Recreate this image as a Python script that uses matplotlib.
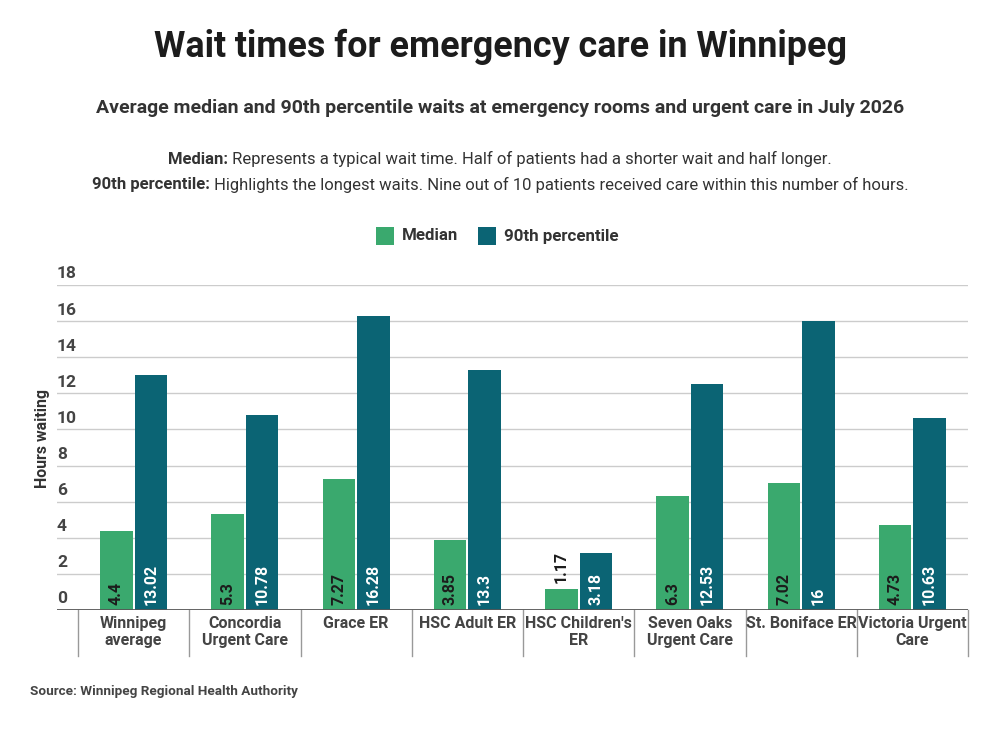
import matplotlib
matplotlib.use('Agg')
import matplotlib.pyplot as plt
import numpy as np
from matplotlib.patches import Rectangle
from matplotlib.transforms import blended_transform_factory

plt.rcParams['font.family'] = ['Roboto', 'DejaVu Sans']

# data
places = ['Winnipeg\naverage', 'Concordia\nUrgent Care', 'Grace ER', 'HSC Adult ER',
          "HSC Children's\nER", 'Seven Oaks\nUrgent Care', 'St. Boniface ER', 'Victoria Urgent\nCare']
median = [4.4, 5.3, 7.27, 3.85, 1.17, 6.3, 7.02, 4.73]
p90 = [13.02, 10.78, 16.28, 13.3, 3.18, 12.53, 16, 10.63]
median_lbl = ['4.4', '5.3', '7.27', '3.85', '1.17', '6.3', '7.02', '4.73']
p90_lbl = ['13.02', '10.78', '16.28', '13.3', '3.18', '12.53', '16', '10.63']
yticks = [0, 2, 4, 6, 8, 10, 12, 14, 16, 18]

GREEN = '#3aa96e'
TEAL = '#0b6474'
DARK = '#1c1c1c'
GREY = '#444444'

W, H = 1000, 730
fig = plt.figure(figsize=(10, 7.3), dpi=100)

def fx(px):
    return px / W

def fy(py):
    return 1 - py / H

# titles
fig.text(0.5, fy(47), 'Wait times for emergency care in Winnipeg', ha='center', va='center',
         fontsize=25.8, fontweight='bold', color=DARK)
fig.text(0.5, fy(108), 'Average median and 90th percentile waits at emergency rooms and urgent care in July 2026',
         ha='center', va='center', fontsize=14, fontweight='bold', color='#333333')

renderer = fig.canvas.get_renderer()

def mixed_line(y, bold, rest, size=12):
    # bold lead-in followed by regular text, centred as one line
    t1 = fig.text(0, fy(y), bold, ha='left', va='center', fontsize=size, fontweight='bold', color='#333333')
    t2 = fig.text(0, fy(y), rest, ha='left', va='center', fontsize=size, color='#333333')
    w1 = t1.get_window_extent(renderer).width
    w2 = t2.get_window_extent(renderer).width
    x0 = (fig.bbox.width - w1 - w2) / 2
    t1.set_x(x0 / fig.bbox.width)
    t2.set_x((x0 + w1) / fig.bbox.width)

mixed_line(159, 'Median:', ' Represents a typical wait time. Half of patients had a shorter wait and half longer.')
mixed_line(185, '90th percentile:', ' Highlights the longest waits. Nine out of 10 patients received care within this number of hours.')

# legend
for x, c, lab in [(376, GREEN, 'Median'), (478, TEAL, '90th percentile')]:
    fig.patches.append(Rectangle((fx(x), fy(245)), fx(18), 18 / H, transform=fig.transFigure,
                                 facecolor=c, edgecolor='none'))
    fig.text(fx(x + 26), fy(236), lab, ha='left', va='center', fontsize=12.2, fontweight='bold', color='#333333')

# axes
ax = fig.add_axes([fx(57), fy(610), fx(968 - 57), (610 - 285) / H])
n = len(places)
xs = np.arange(n)
bw = 0.292
gap = 0.018
ax.set_xlim(-0.5 - 21 / 111.25, n - 0.5)
ax.set_ylim(0, 18)

for v in yticks[1:]:
    ax.axhline(v, color='#cccccc', lw=1, zorder=0)
ax.axhline(0, color='#555555', lw=2, zorder=3)

ax.bar(xs - bw / 2 - gap / 2, median, bw, color=GREEN, zorder=2)
ax.bar(xs + bw / 2 + gap / 2, p90, bw, color=TEAL, zorder=2)

off = 0.3
for i in range(n):
    if median[i] > 2.5:
        ax.text(xs[i] - bw / 2 - gap / 2, off, median_lbl[i], rotation=90, ha='center', va='bottom',
                fontsize=11.5, fontweight='bold', color=DARK)
    else:
        ax.text(xs[i] - bw / 2 - gap / 2, median[i] + 0.35, median_lbl[i], rotation=90, ha='center',
                va='bottom', fontsize=11.5, fontweight='bold', color=DARK)
    ax.text(xs[i] + bw / 2 + gap / 2, off, p90_lbl[i], rotation=90, ha='center', va='bottom',
            fontsize=11.5, fontweight='bold', color='white')

# y tick labels sit above gridlines
tr = blended_transform_factory(ax.transAxes, ax.transData)
for v in yticks:
    ax.text(0, v + 0.2, str(v), transform=tr, ha='left', va='bottom', fontsize=12.5,
            fontweight='bold', color=GREY)
ax.set_yticks([])
ax.set_xticks([])
for s in ax.spines.values():
    s.set_visible(False)

fig.text(fx(43), fy(438), 'Hours waiting', rotation=90, ha='center', va='center',
         fontsize=11.4, fontweight='bold', color='#333333')

# category separators and labels
trx = blended_transform_factory(ax.transData, ax.transAxes)
for i in range(n + 1):
    ax.plot([i - 0.5, i - 0.5], [0, -46 / 325], transform=trx, color='#999999', lw=1, clip_on=False)
for i in range(n):
    ax.text(xs[i], -6 / 325, places[i], transform=trx, ha='center', va='top', fontsize=11.5,
            fontweight='bold', color=GREY, linespacing=1.2)

fig.text(fx(30), fy(692), 'Source: Winnipeg Regional Health Authority', ha='left', va='center',
         fontsize=9.7, fontweight='bold', color=GREY)

fig.savefig('out.png', dpi=100, facecolor='white')
